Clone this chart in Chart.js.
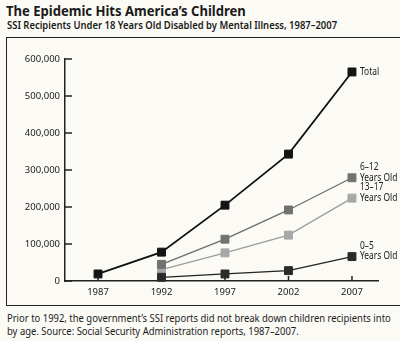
<!DOCTYPE html>
<html lang="en">
<head>
<meta charset="UTF-8">
<title>The Epidemic Hits America's Children</title>
<script src="https://cdn.jsdelivr.net/npm/chart.js"></script>
<style>
    html, body {
        margin: 0;
        padding: 0;
        width: 400px;
        height: 341px;
        overflow: hidden;
        background: #fbfaf5;
        font-family: "Noto Sans", sans-serif;
        color: #1a1a1a;
    }
    .title, .subtitle, .note {
        position: absolute; white-space: nowrap; transform-origin: left top;
    }
    .title { left: 6px; top: 0px; font-size: 15px; font-weight: bold; transform: scaleX(0.87); }
    .subtitle { left: 7px; top: 18px; font-size: 10.5px; font-weight: 600; transform: scaleX(0.9); }
    .note { left: 7px; top: 312px; font-size: 10.5px; line-height: 12.5px; transform: scaleX(0.9); }
    .frame {
        position: absolute; left: 6px; top: 37px; width: 400px; height: 267px;
        border-top: 1.5px solid #222; border-left: 1.5px solid #222; border-bottom: 1.5px solid #222;
    }
    #chart { position: absolute; left: 0; top: 0; }
</style>
</head>
<body>
<div class="title">The Epidemic Hits America’s Children</div>
<div class="subtitle">SSI Recipients Under 18 Years Old Disabled by Mental Illness, 1987–2007</div>
<div class="frame"></div>
<div class="note">Prior to 1992, the government’s SSI reports did not break down children recipients into<br>by age. Source: Social Security Administration reports, 1987–2007.</div>
<canvas id="chart" width="400" height="341"></canvas>
<script>
    const years = [1987, 1992, 1997, 2002, 2007];
    const total = [19000, 78000, 205000, 343000, 565000];
    const ages0to5 = [null, 10000, 19000, 28000, 66000];
    const ages6to12 = [null, 45000, 113000, 192000, 279000];
    const ages13to17 = [null, 31000, 76000, 124000, 224000];
    const yTicks = [0, 100000, 200000, 300000, 400000, 500000, 600000];

    const pts = arr => years.map((yr, i) => ({ x: yr, y: arr[i] })).filter(p => p.y !== null);

    const series = [
        { name: ['Total'], data: total, color: '#111', fill: '#141414', width: 1.8 },
        { name: ['0–5', 'Years Old'], data: ages0to5, color: '#222', fill: '#2b2b2b', width: 1.3 },
        { name: ['6–12', 'Years Old'], data: ages6to12, color: '#6d6d6d', fill: '#727272', width: 1.3 },
        { name: ['13–17', 'Years Old'], data: ages13to17, color: '#9c9c9c', fill: '#a7a7a7', width: 1.3 }
    ];

    // end-of-line labels and inward tick marks
    const decorations = {
        id: 'decorations',
        afterDatasetsDraw(chart) {
            const ctx = chart.ctx;
            const xs = chart.scales.x, ys = chart.scales.y;
            ctx.save();
            ctx.strokeStyle = '#222';
            ctx.lineWidth = 1.5;
            yTicks.forEach(v => {
                const y = ys.getPixelForValue(v);
                ctx.beginPath();
                ctx.moveTo(xs.left, y);
                ctx.lineTo(xs.left + 7, y);
                ctx.stroke();
            });
            years.forEach(v => {
                const x = xs.getPixelForValue(v);
                ctx.beginPath();
                ctx.moveTo(x, ys.bottom);
                ctx.lineTo(x, ys.bottom - 5);
                ctx.stroke();
            });
            ctx.font = '10px "Noto Sans"';
            ctx.fillStyle = '#1a1a1a';
            ctx.textAlign = 'left';
            ctx.textBaseline = 'middle';
            chart.data.datasets.forEach((ds, i) => {
                const meta = chart.getDatasetMeta(i);
                const last = meta.data[meta.data.length - 1];
                const lines = series[i].name;
                lines.forEach((t, k) => {
                    const dy = (k - (lines.length - 1)) * 10.5;
                    ctx.save();
                    ctx.translate(last.x + 8, last.y + dy);
                    ctx.scale(0.84, 1);
                    ctx.fillText(t, 0, 0);
                    ctx.restore();
                });
            });
            ctx.restore();
        }
    };

    new Chart(document.getElementById('chart'), {
        type: 'line',
        data: {
            datasets: series.map(s => ({
                label: s.name.join(' '),
                data: pts(s.data),
                borderColor: s.color,
                borderWidth: s.width,
                backgroundColor: s.fill,
                pointStyle: 'rect',
                pointRadius: 5.6,
                pointBorderColor: s.fill,
                pointBorderWidth: 1,
                tension: 0,
                clip: false
            }))
        },
        options: {
            responsive: false,
            animation: false,
            layout: { padding: { top: 59, right: 22, bottom: 20, left: 0 } },
            plugins: { legend: { display: false }, tooltip: { enabled: false } },
            scales: {
                x: {
                    type: 'linear',
                    min: 1984.4,
                    max: 2009.05,
                    afterBuildTicks: s => { s.ticks = years.map(v => ({ value: v })); },
                    afterFit: s => { s.height = 40; },
                    grid: { drawOnChartArea: false, drawTicks: false },
                    border: { color: '#222', width: 1.5 },
                    ticks: { padding: 6, color: '#1a1a1a', font: { family: 'Noto Sans', size: 9.5 }, callback: v => String(v), maxRotation: 0 }
                },
                y: {
                    min: 0,
                    max: 600000,
                    afterBuildTicks: s => { s.ticks = yTicks.map(v => ({ value: v })); },
                    afterFit: s => { s.width = 65; },
                    grid: { drawOnChartArea: false, drawTicks: false },
                    border: { color: '#222', width: 1.5 },
                    ticks: { padding: 5, color: '#1a1a1a', font: { family: 'Noto Sans', size: 9.5 }, callback: v => v.toLocaleString('en-US') }
                }
            }
        },
        plugins: [decorations]
    });
</script>
</body>
</html>
